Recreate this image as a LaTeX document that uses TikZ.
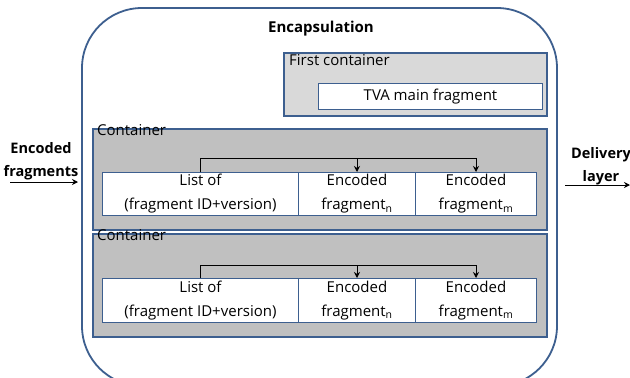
\documentclass[tikz,border=0pt]{standalone}
\usepackage{fontspec}
\setmainfont{Open Sans}
\usetikzlibrary{arrows.meta}
\definecolor{bblue}{RGB}{61,95,143}
\definecolor{cgray}{RGB}{192,192,192}
\definecolor{lgray}{RGB}{217,217,217}
\begin{document}
\begin{tikzpicture}[x=1pt,y=1pt,
  outerbox/.style={draw=bblue,line width=1.8pt,rounded corners=60pt},
  contbox/.style={draw=bblue,line width=1.8pt,fill=cgray,anchor=north west,inner sep=0pt},
  firstbox/.style={draw=bblue,line width=1.8pt,fill=lgray,anchor=north west,inner sep=0pt},
  cell/.style={draw=bblue,line width=1pt,fill=white,anchor=north west,inner sep=0pt,align=center,font=\fontsize{15}{24}\selectfont},
  lbl/.style={anchor=base west,inner sep=0pt,font=\fontsize{15}{18}\selectfont},
  side/.style={font=\bfseries\fontsize{14.5}{23}\selectfont,align=center,inner sep=0pt},
  arr/.style={-{Stealth[length=6pt,width=6pt]},line width=1pt},
  link/.style={line width=1pt}]
\useasboundingbox (0,0) rectangle (630,-378);
\clip (0,0) rectangle (630,-378);
\fill[white] (0,0) rectangle (630,-378);
% outer encapsulation
\draw[outerbox] (82,-8) rectangle (557,-386);
\node[font=\bfseries\fontsize{15}{18}\selectfont,anchor=base] (enc) at (321,-32) {Encapsulation};
% first container
\node[firstbox,minimum width=263pt,minimum height=63pt] (fc) at (283,-52) {};
\node[lbl] (fcl) at (289,-65) {First container};
\node[cell,minimum width=224pt,minimum height=26pt] (tva) at (318,-83) {TVA main fragment};
% container 1
\node[contbox,minimum width=454pt,minimum height=101pt] (c1) at (92,-128) {};
\node[lbl] (c1l) at (97,-135) {Container};
\node[cell,minimum width=196pt,minimum height=43pt] (l1) at (102,-172) {List of\\(fragment ID+version)};
\node[cell,minimum width=117pt,minimum height=43pt] (n1) at (298,-172) {Encoded\\fragment\textsubscript{n}};
\node[cell,minimum width=121pt,minimum height=43pt] (m1) at (415,-172) {Encoded\\fragment\textsubscript{m}};
\path (l1.north) ++(0,14) coordinate (t1);
\draw[link] (l1.north) -- (t1);
\draw[arr] (t1) -| (m1.north);
\draw[arr] (t1 -| n1.north) -- (n1.north);
% container 2
\node[contbox,minimum width=454pt,minimum height=103pt] (c2) at (92,-233) {};
\node[lbl] (c2l) at (97,-240) {Container};
\node[cell,minimum width=196pt,minimum height=44pt] (l2) at (102,-278) {List of\\(fragment ID+version)};
\node[cell,minimum width=117pt,minimum height=44pt] (n2) at (298,-278) {Encoded\\fragment\textsubscript{n}};
\node[cell,minimum width=121pt,minimum height=44pt] (m2) at (415,-278) {Encoded\\fragment\textsubscript{m}};
\path (l2.north) ++(0,13) coordinate (t2);
\draw[link] (l2.north) -- (t2);
\draw[arr] (t2) -| (m2.north);
\draw[arr] (t2 -| n2.north) -- (n2.north);
% side labels
\node[side] (ef) at (41,-161) {Encoded\\fragments};
\coordinate (ea) at (10,-182);
\coordinate (eb) at (78,-182);
\draw[arr] (ea) -- (eb);
\node[side] (dl) at (601,-166) {Delivery\\layer};
\coordinate (da) at (565,-185);
\coordinate (db) at (630,-185);
\draw[arr] (da) -- (db);
\end{tikzpicture}
\end{document}
